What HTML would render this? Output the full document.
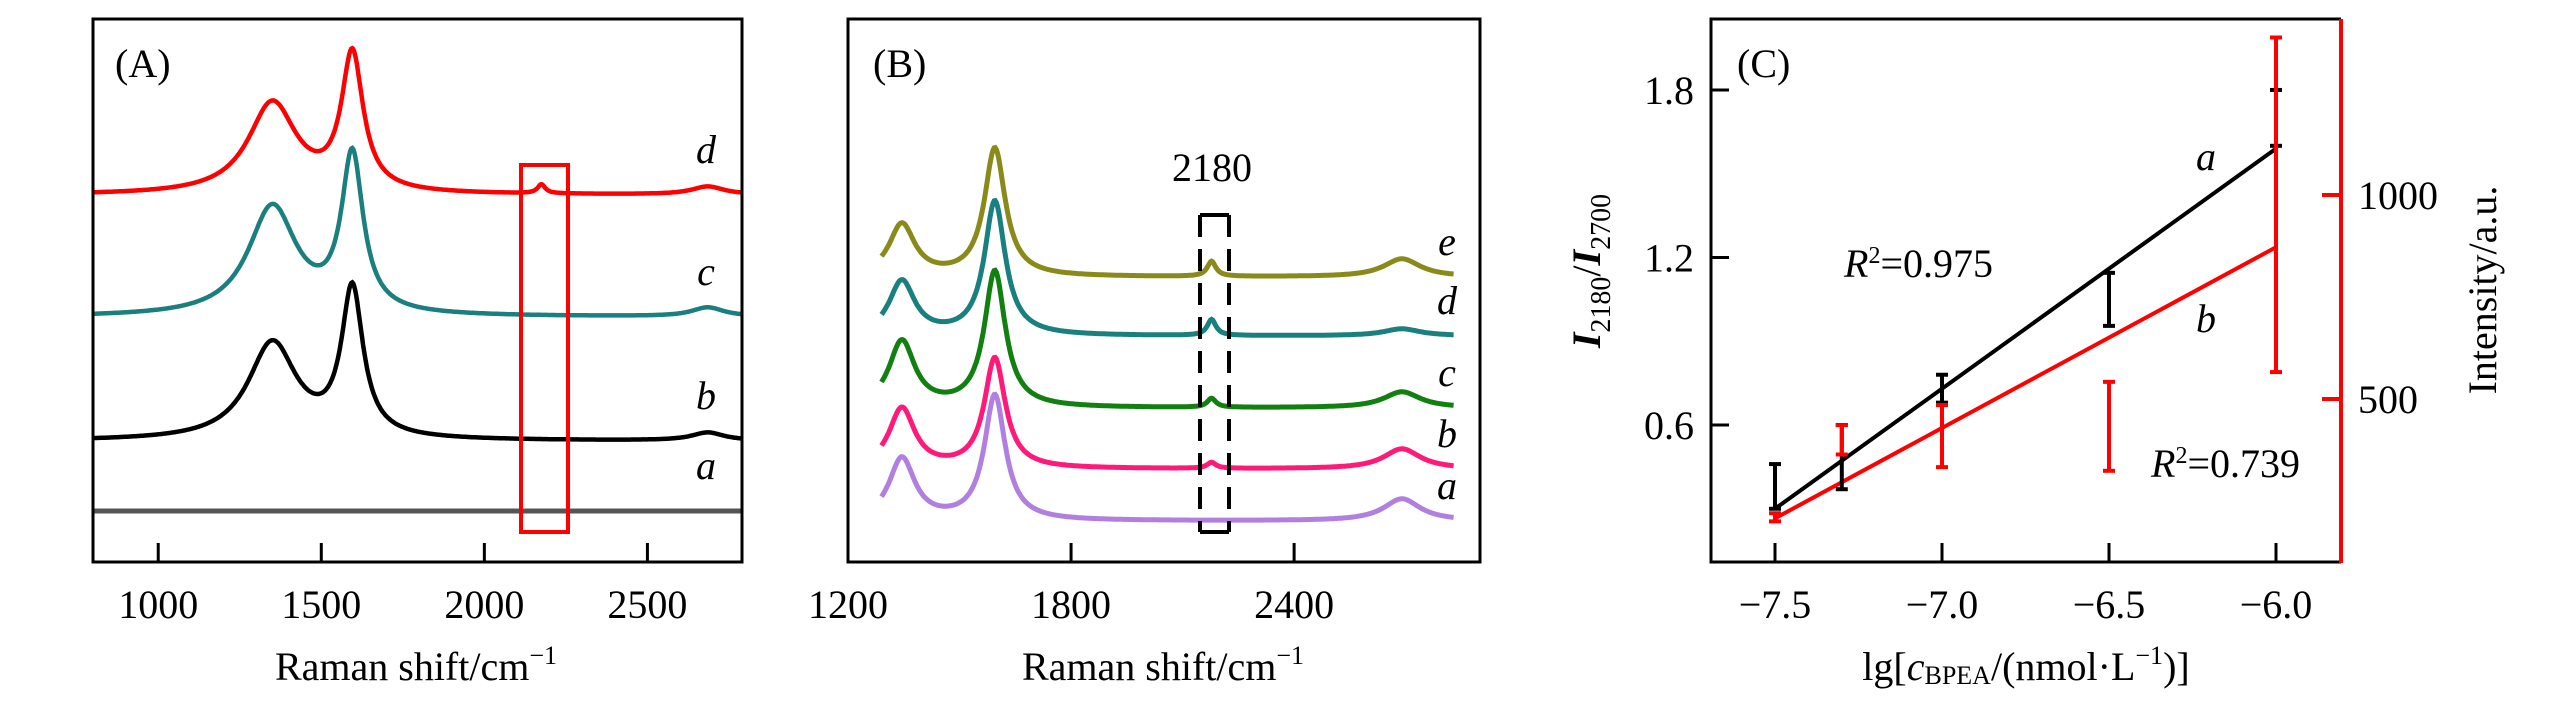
<!DOCTYPE html>
<html><head><meta charset="utf-8"><style>
html,body{margin:0;padding:0;background:#fff}
svg{display:block}
text{font-family:"Liberation Serif",serif;fill:#000}
</style></head><body>
<svg id="fig" width="2567" height="709" viewBox="0 0 2567 709" xmlns="http://www.w3.org/2000/svg">
<g id="pA"></g>
<g id="pB"></g>
<g id="pC"></g>
</svg>
<script>
// ---- Panel A data (peak parameters, px-intensity units) ----
const aNames=["a","b","c","d"];
const aColors=["#555555","#000000","#1b7f7f","#ff0000"];
const aBase=[51,121,245,367];
const aD=[0,97,109,91];
const aG=[0,147,156,136];
const a2D=[0,8,9,8];
const a2180=[0,0,0,9];
const aTicks=[1000,1500,2000,2500];
// ---- Panel B data ----
const bNames=["a","b","c","d","e"];
const bColors=["#b07fe0","#ff1a7a","#118011","#1a7f7f","#8a8a1a"];
const bBase=[51,103,164,236,295];
const bD=[62,60,66,54,52];
const bG=[125,110,136,134,128];
const b2D=[22,20,16,7,18];
const b2180=[0,6,9,16,15];
const bTicks=[1200,1800,2400];
// ---- Panel C data ----
const cX=[-7.5,-7.3,-7.0,-6.5,-6.0];
const cMeanA=[0.38,0.485,0.73,1.05,1.70];
const cErrA=[0.08,0.115,0.05,0.095,0.10];
const cMeanB=[210,400,409,433,976];
const cErrB=[10,36,76,109,410];
const fitA=[0.86,6.75];   // slope, intercept (ratio)
const fitB=[443,3530];    // slope, intercept (intensity)
const cXTicks=[-7.5,-7.0,-6.5,-6.0];
const cYTicks=[0.6,1.2,1.8];
const cRTicks=[500,1000];

const NS="http://www.w3.org/2000/svg";
function mk(parent,tag,attrs,txt){const e=document.createElementNS(NS,tag);for(const k in attrs)e.setAttribute(k,attrs[k]);if(txt!==undefined)e.textContent=txt;parent.appendChild(e);return e;}
function lor(x,c,g){return 1/(1+((x-c)/g)**2);}

// ===== Panel A =====
const pA=document.getElementById('pA');
const xA=v=>93+(v-800)*(649/1990);
const yA=v=>562-v;
for(let i=0;i<aNames.length;i++){
  let d="";
  for(let x=800;x<=2790;x+=3){
    const v=aBase[i]+aD[i]*lor(x,1350,90)+aG[i]*lor(x,1595,40)+a2D[i]*lor(x,2685,60)+a2180[i]*lor(x,2175,14);
    d+=(x===800?"M":"L")+xA(x).toFixed(1)+","+yA(v).toFixed(1);
  }
  const p=mk(pA,'path',{d:d,fill:'none',stroke:aColors[i],'stroke-width':i===0?5:4.5});
  
  
  const t=mk(pA,'text',{x:706,y:yA(aBase[i])-32,'font-size':40,'font-style':'italic','text-anchor':'middle'},aNames[i]);
  
  
}
mk(pA,'rect',{x:521,y:165,width:47,height:367,fill:'none',stroke:'#ff0000','stroke-width':4,});
mk(pA,'rect',{x:93,y:19,width:649,height:543,fill:'none',stroke:'#000','stroke-width':3,});
aTicks.forEach(v=>{
  const l=mk(pA,'line',{x1:xA(v),x2:xA(v),y1:562,y2:543,stroke:'#000','stroke-width':3});
  
  
  const t=mk(pA,'text',{x:xA(v),y:618,'font-size':40,'text-anchor':'middle'},v);
  
  
});
mk(pA,'text',{x:115,y:77,'font-size':40,},'(A)');
const tA=mk(pA,'text',{x:416,y:680,'font-size':40,'text-anchor':'middle',},'Raman shift/cm');
mk(tA,'tspan',{dy:-16,'font-size':26},'−1');

// ===== Panel B =====
const pB=document.getElementById('pB');
const xB=v=>848+(v-1200)*(632/1700);
const yB=v=>562-v;
for(let i=0;i<bNames.length;i++){
  let d="";
  for(let x=1290;x<=2830;x+=3){
    const v=bBase[i]+bD[i]*lor(x,1345,42)+bG[i]*lor(x,1595,34)+b2D[i]*lor(x,2690,60)+b2180[i]*lor(x,2178,14)-10;
    d+=(x===1290?"M":"L")+xB(x).toFixed(1)+","+yB(v).toFixed(1);
  }
  const p=mk(pB,'path',{d:d,fill:'none',stroke:bColors[i],'stroke-width':5});
  
  
  const t=mk(pB,'text',{x:1447,y:yB(bBase[i])-12,'font-size':40,'font-style':'italic','text-anchor':'middle'},bNames[i]);
  
  
}
const box=mk(pB,'g',{stroke:'#000','stroke-width':4,fill:'none',});
mk(box,'line',{x1:1200,x2:1200,y1:215,y2:532,'stroke-dasharray':'22,12'});
mk(box,'line',{x1:1229,x2:1229,y1:215,y2:532,'stroke-dasharray':'22,12'});
mk(box,'line',{x1:1200,x2:1229,y1:215,y2:215});
mk(box,'line',{x1:1200,x2:1229,y1:532,y2:532});
mk(pB,'text',{x:1212,y:181,'font-size':40,'text-anchor':'middle',},'2180');
mk(pB,'rect',{x:848,y:19,width:632,height:543,fill:'none',stroke:'#000','stroke-width':3,});
bTicks.forEach(v=>{
  const l=mk(pB,'line',{x1:xB(v),x2:xB(v),y1:562,y2:543,stroke:'#000','stroke-width':3});
  
  
  const t=mk(pB,'text',{x:xB(v),y:618,'font-size':40,'text-anchor':'middle'},v);
  
  
});
mk(pB,'text',{x:873,y:77,'font-size':40,},'(B)');
const tB=mk(pB,'text',{x:1163,y:680,'font-size':40,'text-anchor':'middle',},'Raman shift/cm');
mk(tB,'tspan',{dy:-16,'font-size':26},'−1');

// ===== Panel C =====
const pC=document.getElementById('pC');
const xC=v=>1775+(v+7.5)*334;
const yL=v=>425-(v-0.6)*279.2;
const yR=v=>399-(v-500)*0.408;
mk(pC,'line',{x1:xC(cX[0]),y1:yL(fitA[0]*cX[0]+fitA[1]),x2:xC(cX[4]),y2:yL(fitA[0]*cX[4]+fitA[1]),stroke:'#000','stroke-width':4,});
mk(pC,'line',{x1:xC(cX[0]),y1:yR(fitB[0]*cX[0]+fitB[1]),x2:xC(cX[4]),y2:yR(fitB[0]*cX[4]+fitB[1]),stroke:'#ff0000','stroke-width':4,});
for(let i=0;i<cX.length;i++){
  const x=xC(cX[i]);
  const ga=mk(pC,'g',{stroke:'#000','stroke-width':4});
  
  
  const t1=yL(cMeanA[i]+cErrA[i]),b1=yL(cMeanA[i]-cErrA[i]);
  mk(ga,'line',{x1:x,x2:x,y1:t1,y2:b1});
  mk(ga,'line',{x1:x-6,x2:x+6,y1:t1,y2:t1});
  mk(ga,'line',{x1:x-6,x2:x+6,y1:b1,y2:b1});
  const gb=mk(pC,'g',{stroke:'#ff0000','stroke-width':4});
  
  
  const t2=yR(cMeanB[i]+cErrB[i]),b2=yR(cMeanB[i]-cErrB[i]);
  mk(gb,'line',{x1:x,x2:x,y1:t2,y2:b2});
  mk(gb,'line',{x1:x-6,x2:x+6,y1:t2,y2:t2});
  mk(gb,'line',{x1:x-6,x2:x+6,y1:b2,y2:b2});
}
mk(pC,'path',{d:'M2341,19 L1711,19 L1711,562 L2341,562',fill:'none',stroke:'#000','stroke-width':3,});
mk(pC,'line',{x1:2341,x2:2341,y1:19,y2:563,stroke:'#ff0000','stroke-width':4,});
cXTicks.forEach(v=>{
  const l=mk(pC,'line',{x1:xC(v),x2:xC(v),y1:562,y2:543,stroke:'#000','stroke-width':3});
  
  
  const t=mk(pC,'text',{x:xC(v),y:618,'font-size':40,'text-anchor':'middle'},'−'+Math.abs(v).toFixed(1));
  
  
});
cYTicks.forEach(v=>{
  const l=mk(pC,'line',{x1:1711,x2:1729,y1:yL(v),y2:yL(v),stroke:'#000','stroke-width':3});
  
  
  const t=mk(pC,'text',{x:1694,y:yL(v)+14,'font-size':40,'text-anchor':'end'},v.toFixed(1));
  
  
});
cRTicks.forEach(v=>{
  const l=mk(pC,'line',{x1:2322,x2:2341,y1:yR(v),y2:yR(v),stroke:'#ff0000','stroke-width':4});
  
  
  const t=mk(pC,'text',{x:2358,y:yR(v)+14,'font-size':40},v);
  
  
});
mk(pC,'text',{x:1737,y:77,'font-size':40,},'(C)');
mk(pC,'text',{x:2206,y:170,'font-size':40,'font-style':'italic','text-anchor':'middle',},'a');
mk(pC,'text',{x:2206,y:332,'font-size':40,'font-style':'italic','text-anchor':'middle',},'b');
const r1=mk(pC,'text',{x:1844,y:277,'font-size':40,});
mk(r1,'tspan',{'font-style':'italic'},'R');mk(r1,'tspan',{dy:-14,'font-size':24},'2');mk(r1,'tspan',{dy:14},'=0.975');
const r2=mk(pC,'text',{x:2151,y:477,'font-size':40,});
mk(r2,'tspan',{'font-style':'italic'},'R');mk(r2,'tspan',{dy:-14,'font-size':24},'2');mk(r2,'tspan',{dy:14},'=0.739');
const yl=mk(pC,'text',{x:0,y:0,'font-size':40,'text-anchor':'middle',transform:'translate(1600,271) rotate(-90)',});
mk(yl,'tspan',{'font-style':'italic','font-weight':'bold'},'I');mk(yl,'tspan',{dy:10,'font-size':28},'2180');
mk(yl,'tspan',{dy:-10},'/');mk(yl,'tspan',{'font-style':'italic','font-weight':'bold'},'I');mk(yl,'tspan',{dy:10,'font-size':28},'2700');
mk(pC,'text',{x:0,y:0,'font-size':40,'text-anchor':'middle',transform:'translate(2496,290) rotate(-90)',},'Intensity/a.u.');
const xt=mk(pC,'text',{x:2026,y:680,'font-size':40,'text-anchor':'middle',});
mk(xt,'tspan',{},'lg[');mk(xt,'tspan',{'font-style':'italic'},'c');mk(xt,'tspan',{'font-size':26,dy:4},'BPEA');
mk(xt,'tspan',{dy:-4},'/(nmol·L');mk(xt,'tspan',{dy:-16,'font-size':26},'−1');mk(xt,'tspan',{dy:16},')]');
</script>
</body></html>
